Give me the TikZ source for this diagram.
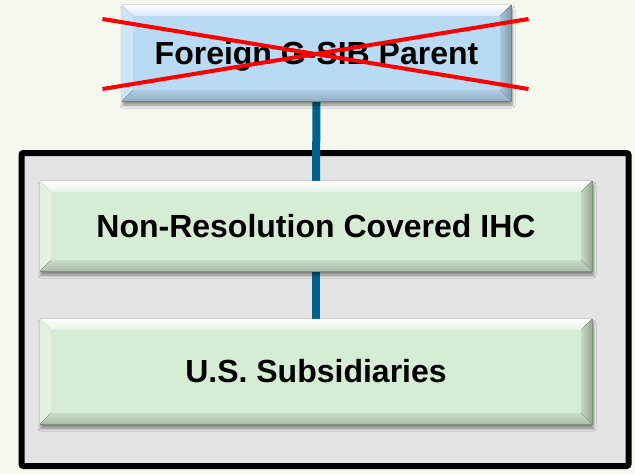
\documentclass[tikz,border=0pt]{standalone}
\usepackage{fontspec}
\setmainfont{Liberation Sans}
\usetikzlibrary{calc,shadows.blur,backgrounds}
\definecolor{bgc}{HTML}{F4F8EF}
\definecolor{bluef}{HTML}{B8DAF2}
\definecolor{greenf}{HTML}{D7ECD4}
\definecolor{grayf}{HTML}{E4E4E4}
\definecolor{tealc}{HTML}{00628A}
\tikzset{
  bbox/.style={draw=none, inner sep=0pt, text height=22.5pt, text depth=0pt,
    font=\fontsize{32}{32}\selectfont\bfseries,
    blur shadow={shadow xshift=1pt, shadow yshift=-4pt, shadow blur steps=6, shadow blur radius=3pt, shadow opacity=45}},
  conn/.style={draw=tealc, line width=8pt},
  cross/.style={draw=red, line width=4pt},
  frame/.style={draw=black, line width=6pt, fill=grayf, rounded corners=2pt, inner sep=0pt}
}
\newcommand{\bevelit}[2]{%
  \def\b{11}%
  \fill[top color=white, bottom color=#2!60!white, shading angle=0]
    (#1.north west) -- (#1.north east) -- ($(#1.north east)+(-\b,\b)$) -- ($(#1.north west)+(\b,\b)$) -- cycle;
  \fill[#2!70!white] (#1.north west) -- ($(#1.north west)+(\b,\b)$) -- ($(#1.south west)+(\b,-\b)$) -- (#1.south west) -- cycle;
  \fill[left color=#2!92!black, right color=#2!70!black]
    (#1.north east) -- ($(#1.north east)+(-\b,\b)$) -- ($(#1.south east)+(-\b,-\b)$) -- (#1.south east) -- cycle;
  \fill[top color=#2!93!black, bottom color=#2!80!black]
    (#1.south west) -- ($(#1.south west)+(\b,-\b)$) -- ($(#1.south east)+(-\b,-\b)$) -- (#1.south east) -- cycle;
  \draw[#2!60!black, line width=0.8pt] (#1.south west) -- (#1.south east) -- (#1.north east);
}
\begin{document}
\begin{tikzpicture}[x=1pt,y=-1pt]
\useasboundingbox (0,0) rectangle (635,474);
\node[bbox, fill=bluef, minimum width=389pt, minimum height=96pt] (parent) at (316.5,53) {Foreign G-SIB Parent};
\node[bbox, fill=greenf, minimum width=552pt, minimum height=90pt] (ihc) at (316,226) {Non-Resolution Covered IHC};
\node[bbox, fill=greenf, minimum width=552pt, minimum height=105pt] (subs) at (316,371.5) {U.S. Subsidiaries};
\bevelit{parent}{bluef}
\bevelit{ihc}{greenf}
\bevelit{subs}{greenf}
\begin{pgfonlayer}{background}
\fill[bgc] (0,0) rectangle (635,474);
\node[frame, minimum width=607pt, minimum height=313pt] (outer) at (325,309.5) {};
\draw[conn] (parent.south) -- (ihc.north);
\draw[conn] (ihc.south) -- (subs.north);
\end{pgfonlayer}
\coordinate (xa) at (102.5,19);
\coordinate (xb) at (528.5,89);
\coordinate (xc) at (102.5,89);
\coordinate (xd) at (528.5,19);
\draw[cross] (xa) -- (xb);
\draw[cross] (xc) -- (xd);
\end{tikzpicture}
\end{document}
